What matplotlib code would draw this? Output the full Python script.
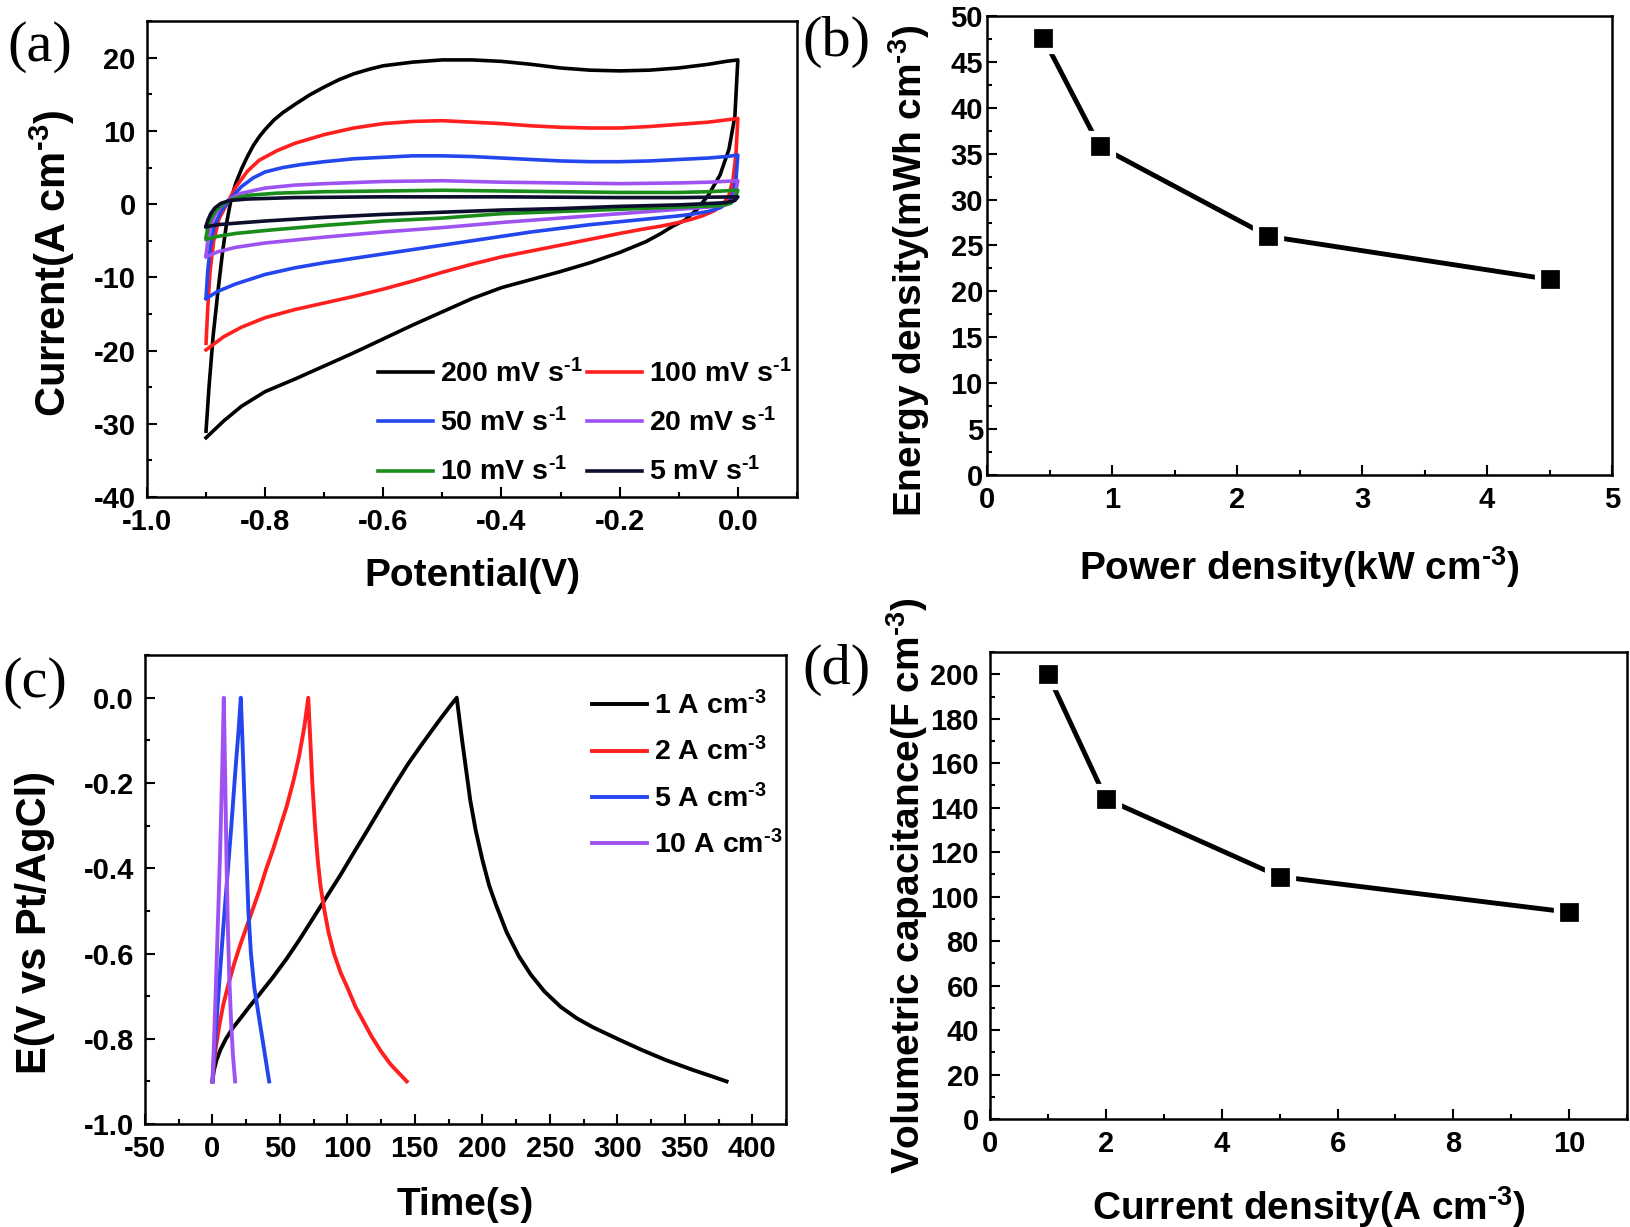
import numpy as np
import matplotlib
matplotlib.use("Agg")
import matplotlib.pyplot as plt
from matplotlib.ticker import MultipleLocator, FormatStrFormatter

plt.rcParams['font.family'] = ['Liberation Sans', 'DejaVu Sans']
plt.rcParams['font.weight'] = 'bold'
plt.rcParams['axes.unicode_minus'] = False
plt.rcParams['mathtext.fontset'] = 'custom'
plt.rcParams['mathtext.rm'] = 'Liberation Sans:bold'
plt.rcParams['mathtext.it'] = 'Liberation Sans:bold'
plt.rcParams['mathtext.bf'] = 'Liberation Sans:bold'
plt.rcParams['mathtext.default'] = 'rm'

# ---- (a) CV loops: potential (V) and current (A cm-3), forward then reverse
cv200_v = [-0.9, -0.895, -0.888, -0.88, -0.872, -0.865, -0.858, -0.85, -0.84, -0.83, -0.82, -0.81,
           -0.8, -0.785, -0.77, -0.75, -0.725, -0.7, -0.675, -0.65, -0.625, -0.6, -0.55, -0.5,
           -0.45, -0.4, -0.35, -0.3, -0.25, -0.2, -0.15, -0.1, -0.05, -0.02, 0.0,
           -0.005, -0.015, -0.03, -0.05, -0.07, -0.09, -0.11, -0.13, -0.155, -0.2, -0.25, -0.3,
           -0.35, -0.4, -0.45, -0.5, -0.55, -0.6, -0.65, -0.7, -0.75, -0.8, -0.84, -0.87, -0.9]
cv200_i = [-31.0, -25.0, -18.0, -12.0, -6.5, -2.5, 0.5, 2.8, 4.8, 6.5, 8.0, 9.2,
           10.2, 11.5, 12.5, 13.6, 14.9, 16.0, 17.0, 17.8, 18.4, 18.9, 19.4, 19.7,
           19.7, 19.5, 19.1, 18.6, 18.3, 18.2, 18.3, 18.6, 19.1, 19.5, 19.7,
           12.0, 7.5, 4.0, 1.2, -0.8, -2.2, -3.0, -4.0, -5.1, -6.6, -8.0, -9.2,
           -10.3, -11.4, -12.9, -14.7, -16.5, -18.4, -20.3, -22.1, -23.9, -25.6, -27.6, -29.6, -31.9]

cv100_v = [-0.9, -0.897, -0.893, -0.887, -0.878, -0.865, -0.85, -0.83, -0.81, -0.78, -0.75, -0.7,
           -0.65, -0.6, -0.55, -0.5, -0.45, -0.4, -0.35, -0.3, -0.25, -0.2, -0.15, -0.1, -0.05,
           -0.02, 0.0,
           -0.003, -0.008, -0.015, -0.025, -0.04, -0.06, -0.08, -0.1, -0.13, -0.16, -0.2, -0.25,
           -0.3, -0.35, -0.4, -0.45, -0.5, -0.55, -0.6, -0.65, -0.7, -0.75, -0.8, -0.84, -0.87, -0.9]
cv100_i = [-19.0, -14.0, -9.0, -5.0, -2.0, 0.0, 2.3, 4.5, 6.0, 7.3, 8.3, 9.5,
           10.4, 11.0, 11.3, 11.4, 11.2, 11.0, 10.7, 10.5, 10.4, 10.4, 10.6, 10.9, 11.2,
           11.5, 11.7,
           7.0, 3.5, 1.2, 0.0, -0.9, -1.6, -2.1, -2.5, -3.0, -3.4, -4.0, -4.8,
           -5.6, -6.4, -7.2, -8.2, -9.3, -10.5, -11.6, -12.6, -13.5, -14.4, -15.5, -16.8, -18.1, -19.9]

cv50_v = [-0.9, -0.897, -0.893, -0.886, -0.875, -0.86, -0.84, -0.82, -0.8, -0.77, -0.74, -0.7,
          -0.65, -0.6, -0.55, -0.5, -0.45, -0.4, -0.35, -0.3, -0.25, -0.2, -0.15, -0.1, -0.05,
          -0.02, 0.0,
          -0.003, -0.008, -0.015, -0.03, -0.05, -0.08, -0.1, -0.15, -0.2, -0.25, -0.3, -0.35,
          -0.4, -0.45, -0.5, -0.55, -0.6, -0.65, -0.7, -0.75, -0.8, -0.85, -0.88, -0.9]
cv50_i = [-12.8, -9.0, -6.0, -3.0, -1.0, 0.6, 2.4, 3.6, 4.4, 5.0, 5.4, 5.8,
          6.2, 6.4, 6.6, 6.6, 6.5, 6.3, 6.1, 5.9, 5.8, 5.8, 5.9, 6.1, 6.3,
          6.5, 6.7,
          3.5, 1.5, 0.3, -0.5, -1.0, -1.4, -1.6, -2.0, -2.4, -2.8, -3.3, -3.8,
          -4.4, -5.0, -5.6, -6.2, -6.8, -7.4, -8.0, -8.7, -9.6, -10.9, -11.9, -12.9]

cv20_v = [-0.9, -0.897, -0.892, -0.885, -0.875, -0.86, -0.84, -0.8, -0.75, -0.7, -0.6, -0.5,
          -0.4, -0.3, -0.2, -0.1, -0.05, 0.0,
          -0.004, -0.01, -0.02, -0.05, -0.1, -0.2, -0.3, -0.4, -0.5, -0.6, -0.7, -0.75, -0.8,
          -0.85, -0.88, -0.9]
cv20_i = [-7.0, -5.0, -3.0, -1.5, -0.3, 0.7, 1.5, 2.2, 2.6, 2.8, 3.1, 3.2,
          3.0, 2.9, 2.8, 2.9, 3.0, 3.2,
          1.5, 0.4, -0.1, -0.4, -0.7, -1.3, -1.9, -2.5, -3.2, -3.8, -4.5, -4.9, -5.3,
          -5.9, -6.5, -7.2]

cv10_v = [-0.9, -0.897, -0.892, -0.884, -0.872, -0.855, -0.83, -0.78, -0.7, -0.6, -0.5, -0.4,
          -0.3, -0.2, -0.1, -0.05, 0.0,
          -0.005, -0.012, -0.03, -0.1, -0.2, -0.3, -0.4, -0.5, -0.6, -0.7, -0.8, -0.85, -0.88, -0.9]
cv10_i = [-4.5, -3.2, -2.0, -0.9, 0.0, 0.7, 1.2, 1.5, 1.7, 1.8, 1.9, 1.8,
          1.7, 1.6, 1.6, 1.7, 1.9,
          0.7, 0.1, -0.2, -0.4, -0.7, -1.0, -1.3, -1.9, -2.3, -2.9, -3.6, -4.0, -4.4, -4.8]

cv5_v = [-0.9, -0.897, -0.892, -0.885, -0.875, -0.86, -0.83, -0.75, -0.6, -0.4, -0.2, -0.1, 0.0,
         -0.005, -0.02, -0.1, -0.2, -0.3, -0.4, -0.5, -0.6, -0.7, -0.8, -0.85, -0.88, -0.9]
cv5_i = [-3.0, -2.2, -1.3, -0.5, 0.1, 0.5, 0.7, 0.9, 1.0, 1.0, 0.9, 0.9, 1.0,
         0.5, 0.2, -0.1, -0.3, -0.6, -0.8, -1.1, -1.4, -1.8, -2.3, -2.6, -2.8, -3.1]

cv_labels = ['200 mV s$^{\\text{-1}}$', '100 mV s$^{\\text{-1}}$', '50 mV s$^{\\text{-1}}$',
             '20 mV s$^{\\text{-1}}$', '10 mV s$^{\\text{-1}}$', '5 mV s$^{\\text{-1}}$']
cv_colors = ['#000000', '#ff1f1f', '#2346ee', '#9f52f2', '#1a8c1a', '#0d0d2e']

# ---- (b) energy vs power density
power_density = [0.45, 0.9, 2.25, 4.5]
energy_density = [47.6, 35.8, 26.0, 21.3]

# ---- (c) GCD curves: time (s), potential (V)
gcd1_t = [0, 1, 3, 6, 10, 15, 20, 27, 35, 45, 55, 65, 75, 85, 95, 105, 115, 125, 135, 145,
          155, 163, 170, 176, 181,
          183, 185, 188, 191, 195, 200, 205, 210, 218, 227, 236, 246, 258, 270, 282, 300,
          318, 336, 355, 370, 381]
gcd1_e = [-0.9, -0.875, -0.85, -0.825, -0.8, -0.775, -0.755, -0.726, -0.695, -0.655, -0.612,
          -0.565, -0.515, -0.465, -0.415, -0.362, -0.31, -0.257, -0.205, -0.155,
          -0.11, -0.075, -0.045, -0.02, 0.0,
          -0.05, -0.1, -0.17, -0.24, -0.31, -0.38, -0.44, -0.485, -0.55, -0.606, -0.65, -0.689,
          -0.725, -0.752, -0.773, -0.8, -0.826, -0.85, -0.872, -0.888, -0.9]
gcd2_t = [0, 1, 2.5, 5, 8, 12, 16, 20, 25, 30, 35, 40, 45, 50, 55, 60, 64, 68, 71,
          72.5, 74, 76, 78, 80, 83, 86, 90, 95, 100, 106, 112, 118, 125, 132, 138, 144]
gcd2_e = [-0.9, -0.86, -0.82, -0.77, -0.72, -0.67, -0.625, -0.585, -0.54, -0.495, -0.45,
          -0.4, -0.355, -0.305, -0.255, -0.195, -0.14, -0.07, 0.0,
          -0.1, -0.2, -0.3, -0.38, -0.44, -0.5, -0.55, -0.6, -0.645, -0.68, -0.725, -0.76,
          -0.795, -0.83, -0.86, -0.88, -0.9]
gcd5_t = [0, 1, 3, 5, 8, 11, 14, 17, 19.5, 21,
          22, 23.5, 25, 26.6, 28.5, 31, 34, 37, 40, 42]
gcd5_e = [-0.9, -0.85, -0.76, -0.67, -0.54, -0.42, -0.3, -0.17, -0.07, 0.0,
          -0.08, -0.22, -0.36, -0.5, -0.6, -0.68, -0.74, -0.8, -0.86, -0.9]
gcd10_t = [0, 1, 2.5, 4, 5.5, 7, 8.4, 9.5, 10.5, 11.5, 12.5, 13.8, 15.2, 16.8]
gcd10_e = [-0.9, -0.82, -0.68, -0.53, -0.38, -0.2, 0.0, -0.2, -0.4, -0.55, -0.66, -0.76,
           -0.84, -0.9]

gcd_labels = ['1 A cm$^{\\text{-3}}$', '2 A cm$^{\\text{-3}}$', '5 A cm$^{\\text{-3}}$',
              '10 A cm$^{\\text{-3}}$']
gcd_colors = ['#000000', '#ff1f1f', '#2346ee', '#9f52f2']

# ---- (d) capacitance vs current density
current_density = [1, 2, 5, 10]
vol_capacitance = [200, 144, 109, 93]

TICK_FS = 21
LABEL_FS = 28
LEG_FS = 20.5


def style_axis(ax, xmaj, xmin, ymaj, ymin, ypad=8):
    for sp in ax.spines.values():
        sp.set_linewidth(1.8)
    ax.xaxis.set_major_locator(MultipleLocator(xmaj))
    ax.xaxis.set_minor_locator(MultipleLocator(xmin))
    ax.yaxis.set_major_locator(MultipleLocator(ymaj))
    ax.yaxis.set_minor_locator(MultipleLocator(ymin))
    ax.tick_params(which='both', direction='in', top=False, right=False, width=1.5)
    ax.tick_params(which='major', length=7)
    ax.tick_params(which='minor', length=3.6)
    ax.tick_params(axis='x', which='major', pad=8, labelsize=TICK_FS)
    ax.tick_params(axis='y', which='major', pad=ypad, labelsize=TICK_FS)
    for lab in ax.get_xticklabels() + ax.get_yticklabels():
        lab.set_fontweight('bold')


fig = plt.figure(figsize=(16.31, 12.27), dpi=100)

# (a)
ax_a = fig.add_axes([0.0901, 0.5949, 0.3985, 0.3879])
cv_v = [cv200_v, cv100_v, cv50_v, cv20_v, cv10_v, cv5_v]
cv_i = [cv200_i, cv100_i, cv50_i, cv20_i, cv10_i, cv5_i]
lines_a = []
for v, i, c, lab in zip(cv_v, cv_i, cv_colors, cv_labels):
    ln, = ax_a.plot(v, i, color=c, lw=2.6, label=lab, solid_joinstyle='round')
    lines_a.append(ln)
ax_a.set_xlim(-1.0, 0.1)
ax_a.set_ylim(-40, 25)
style_axis(ax_a, 0.2, 0.1, 10, 5)
ax_a.xaxis.set_major_formatter(FormatStrFormatter('%.1f'))
ax_a.set_xlabel('Potential(V)', fontsize=LABEL_FS, fontweight='bold')
ax_a.set_ylabel('Current(A cm$^{\\text{-3}}$)', fontsize=30, fontweight='bold')
ax_a.xaxis.set_label_coords(0.5, -0.128)
ax_a.yaxis.set_label_coords(-0.108, 0.49)
# legend filled row by row: 200/100, 50/20, 10/5
order = [0, 2, 4, 1, 3, 5]
ax_a.legend([lines_a[k] for k in order], [cv_labels[k] for k in order], ncol=2,
            loc='upper left', bbox_to_anchor=(0.355, 0.29), frameon=False,
            fontsize=LEG_FS, handlelength=1.93, handletextpad=0.27, columnspacing=0.12,
            labelspacing=0.7, borderpad=0, borderaxespad=0)

# (b)
ax_b = fig.add_axes([0.6052, 0.6129, 0.3832, 0.3741])
ax_b.plot(power_density, energy_density, color='black', lw=3.5, marker='s', ms=18,
          mfc='black', mec='white', mew=4.5)
ax_b.set_xlim(0, 5)
ax_b.set_ylim(0, 50)
style_axis(ax_b, 1, 0.5, 5, 2.5, ypad=3)
ax_b.set_xlabel('Power density(kW cm$^{\\text{-3}}$)', fontsize=LABEL_FS, fontweight='bold')
ax_b.set_ylabel('Energy density(mWh cm$^{\\text{-3}}$)', fontsize=LABEL_FS, fontweight='bold')
ax_b.xaxis.set_label_coords(0.5, -0.15)
ax_b.yaxis.set_label_coords(-0.088, 0.445)

# (c)
ax_c = fig.add_axes([0.0889, 0.0839, 0.3930, 0.3822])
gcd_t = [gcd1_t, gcd2_t, gcd5_t, gcd10_t]
gcd_e = [gcd1_e, gcd2_e, gcd5_e, gcd10_e]
for t, e, c, lab in zip(gcd_t, gcd_e, gcd_colors, gcd_labels):
    ax_c.plot(t, e, color=c, lw=2.8, label=lab, solid_joinstyle='round')
ax_c.set_xlim(-50, 425)
ax_c.set_ylim(-1.0, 0.1)
style_axis(ax_c, 50, 25, 0.2, 0.1)
ax_c.yaxis.set_major_formatter(FormatStrFormatter('%.1f'))
ax_c.set_xlabel('Time(s)', fontsize=LABEL_FS, fontweight='bold')
ax_c.set_ylabel('E(V vs Pt/AgCl)', fontsize=30, fontweight='bold')
ax_c.xaxis.set_label_coords(0.5, -0.135)
ax_c.yaxis.set_label_coords(-0.14, 0.43)
ax_c.legend(loc='upper left', bbox_to_anchor=(0.697, 0.923), frameon=False,
            fontsize=LEG_FS, handlelength=1.95, handletextpad=0.25,
            labelspacing=0.6, borderpad=0, borderaxespad=0)

# (d)
ax_d = fig.add_axes([0.6070, 0.0880, 0.3906, 0.3806])
ax_d.plot(current_density, vol_capacitance, color='black', lw=3.5, marker='s', ms=18,
          mfc='black', mec='white', mew=4.5)
ax_d.set_xlim(0, 11)
ax_d.set_ylim(0, 210)
style_axis(ax_d, 2, 1, 20, 10)
ax_d.set_xlabel('Current density(A cm$^{\\text{-3}}$)', fontsize=LABEL_FS, fontweight='bold')
ax_d.set_ylabel('Volumetric capacitance(F cm$^{\\text{-3}}$)', fontsize=LABEL_FS,
                fontweight='bold')
ax_d.xaxis.set_label_coords(0.5, -0.14)
ax_d.yaxis.set_label_coords(-0.094, 0.5)

# panel letters
for txt, x, y in [('(a)', 0.0245, 0.962), ('(b)', 0.513, 0.966),
                  ('(c)', 0.0215, 0.443), ('(d)', 0.5126, 0.454)]:
    fig.text(x, y, txt, ha='center', va='center', fontsize=42,
             family='Liberation Serif', fontweight='normal')

fig.savefig('out.png', dpi=100)
